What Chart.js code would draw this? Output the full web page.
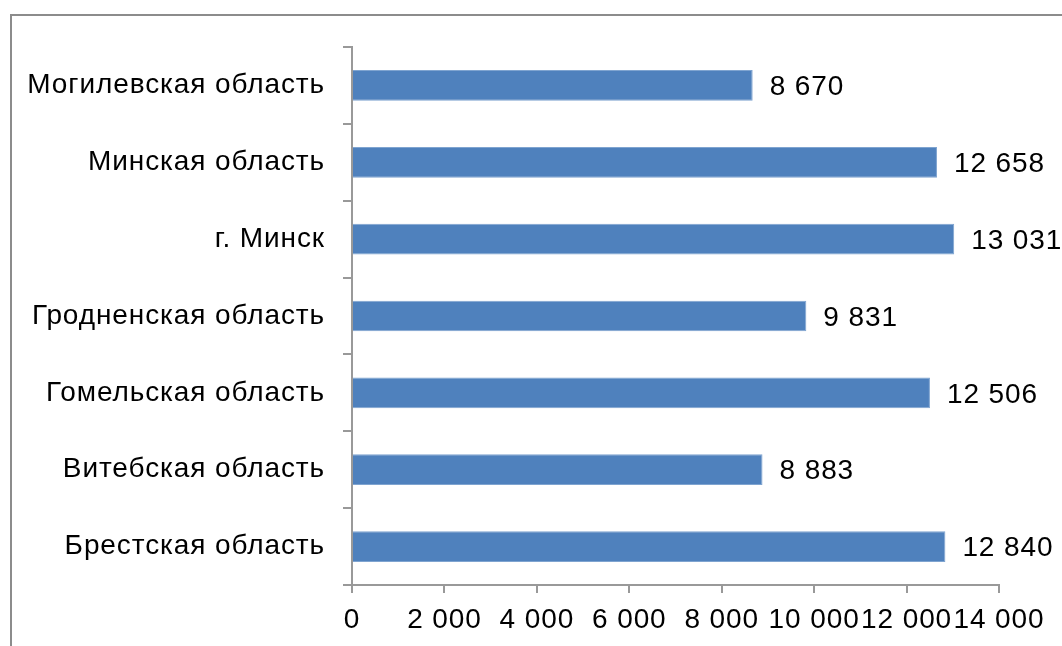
<!DOCTYPE html>
<html>
<head>
<meta charset="utf-8">
<script src="https://cdn.jsdelivr.net/npm/chart.js@4/dist/chart.umd.min.js"></script>
<style>
  html, body { margin: 0; padding: 0; background: #ffffff; }
  #wrap { width: 1062px; height: 646px; position: relative; }
</style>
</head>
<body>
<div id="wrap"><canvas id="c" width="1062" height="646"></canvas></div>
<script>
const categories = [
  "Могилевская область",
  "Минская область",
  "г. Минск",
  "Гродненская область",
  "Гомельская область",
  "Витебская область",
  "Брестская область"
];
const values = [8670, 12658, 13031, 9831, 12506, 8883, 12840];
const xTickValues = [0, 2000, 4000, 6000, 8000, 10000, 12000, 14000];

const FONT = "'Liberation Sans', Arial, sans-serif";
const fmt = v => String(v).replace(/\B(?=(\d{3})+(?!\d))/g, " ");
const SPACING = '0.9px';

const spacingPlugin = {
  id: 'spacing',
  beforeUpdate(chart) { chart.ctx.letterSpacing = SPACING; },
  beforeLayout(chart) { chart.ctx.letterSpacing = SPACING; },
  beforeDraw(chart) { chart.ctx.letterSpacing = SPACING; }
};

const framePlugin = {
  id: 'frame',
  beforeDraw(chart) {
    const ctx = chart.ctx;
    ctx.save();
    ctx.strokeStyle = '#8c8c8c';
    ctx.lineWidth = 2;
    ctx.strokeRect(11, 15, 1200, 800);
    ctx.restore();
  }
};

const valueLabels = {
  id: 'valueLabels',
  afterDatasetsDraw(chart) {
    const ctx = chart.ctx;
    const meta = chart.getDatasetMeta(0);
    ctx.save();
    ctx.font = "28px " + FONT;
    ctx.fillStyle = '#000000';
    ctx.textAlign = 'left';
    ctx.textBaseline = 'middle';
    meta.data.forEach((bar, i) => {
      ctx.fillText(fmt(values[i]), bar.x + 17, bar.y + 2);
    });
    ctx.restore();
  }
};

new Chart(document.getElementById('c'), {
  type: 'bar',
  data: {
    labels: categories,
    datasets: [{
      data: values,
      backgroundColor: '#4f81bd',
      borderColor: '#7fa4d0',
      borderWidth: 1,
      barPercentage: 0.8,
      categoryPercentage: 0.5
    }]
  },
  options: {
    indexAxis: 'y',
    responsive: false,
    animation: false,
    devicePixelRatio: 1,
    layout: { padding: { top: 47, right: 63, bottom: 0, left: 0 } },
    plugins: {
      legend: { display: false },
      tooltip: { enabled: false }
    },
    scales: {
      x: {
        min: 0,
        max: 14000,
        afterBuildTicks(scale) {
          scale.ticks = xTickValues.map(v => ({ value: v }));
        },
        afterFit(scale) { scale.height = 646 - 585; },
        grid: {
          drawOnChartArea: false,
          drawTicks: true,
          tickLength: 8,
          color: '#999999',
          lineWidth: 2
        },
        border: { display: true, color: '#999999', width: 2 },
        ticks: {
          color: '#000000',
          font: { family: FONT, size: 28 },
          padding: 10,
          maxRotation: 0,
          autoSkip: false,
          callback: v => fmt(v)
        }
      },
      y: {
        offset: true,
        afterFit(scale) { scale.width = 352; },
        grid: {
          offset: true,
          drawOnChartArea: false,
          drawTicks: true,
          tickLength: 9,
          color: '#999999',
          lineWidth: 2
        },
        border: { display: true, color: '#999999', width: 2 },
        ticks: {
          color: '#000000',
          font: { family: FONT, size: 28 },
          padding: 18,
          autoSkip: false
        }
      }
    }
  },
  plugins: [spacingPlugin, framePlugin, valueLabels]
});
</script>
</body>
</html>
